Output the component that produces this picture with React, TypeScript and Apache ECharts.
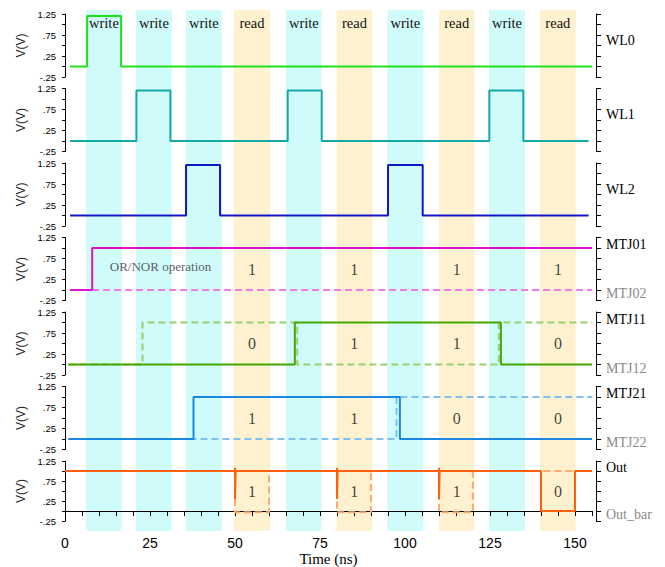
import React, { useEffect, useRef } from "react";
import * as echarts from "echarts";

// ---------- data ----------
const T_MAX = 155;
const bandStart = [6.2, 20.9, 35.6, 49.7, 65.0, 79.9, 94.8, 110.0, 124.7, 139.7];
const bandEnd = [16.7, 31.4, 46.1, 60.3, 75.5, 90.4, 105.4, 120.4, 135.3, 150.2];
const bandKind = ["write", "write", "write", "read", "write", "read", "write", "read", "write", "read"];

// waveforms: [time (ns), new value (V)] change points, drawn as steps
const WL0 = [[1.5, 0], [6.5, 1.2], [16.5, 0], [155, 0]];
const WL1 = [[1.5, 0], [21, 1.2], [31, 0], [65.5, 1.2], [75.5, 0], [124.8, 1.2], [134.8, 0], [154, 0]];
const WL2 = [[1.5, 0], [35.6, 1.2], [45.6, 0], [95, 1.2], [105.2, 0], [154, 0]];
const MTJ01 = [[1.5, 0], [8, 1.0], [155, 1.0]];
const MTJ02 = [[1.5, 0], [155, 0]];
const MTJ11 = [[1, 0], [67.6, 1.0], [128.2, 0], [155, 0]];
const MTJ12 = [[1, 0], [22.8, 1.0], [68.3, 0], [127.6, 1.0], [155, 1.0]];
const MTJ21 = [[1, 0], [37.8, 1.0], [98.5, 0], [155, 0]];
const MTJ22 = [[1, 0], [97.5, 1.0], [155, 1.0]];
const OUT = [[0, 1.0], [50, 1.08], [50, 0.3], [50.2, 1.0], [80, 1.08], [80, 0.3], [80.2, 1.0], [110, 1.08], [110, 0.3], [110.2, 1.0], [140, 0], [150, 1.0], [155, 1.0]];
const OUT_BAR = [[0, 1.0], [50, -0.03], [60, 1.0], [80, -0.03], [90, 1.0], [110, -0.03], [120, 1.0], [155, 1.0]];

const readCenters = [55, 85.1, 115.2, 145];
const bits0 = ["1", "1", "1", "1"];
const bits1 = ["0", "1", "1", "0"];
const bits2 = ["1", "1", "0", "0"];
const bitsOut = ["1", "1", "1", "0"];

const leftTickLabels: Record<string, string> = { "125": "1.25", "75": ".75", "25": ".25", "-25": "-.25" };
const xTickLabels = [0, 25, 50, 75, 100, 125, 150];

// ---------- styling ----------
const CYAN = "#d0fbfb";
const TAN = "#fdf1cf";
const SERIF = "'Liberation Serif', 'Times New Roman', serif";
const SANS = "'Liberation Sans', Arial, sans-serif";

type Panel = {
  solid: { name: string; data: number[][]; color: string };
  dashed?: { name: string; data: number[][]; color: string };
  bits?: string[];
};

const panels: Panel[] = [
  { solid: { name: "WL0", data: WL0, color: "#1ee01e" } },
  { solid: { name: "WL1", data: WL1, color: "#14a8a8" } },
  { solid: { name: "WL2", data: WL2, color: "#1414c8" } },
  { solid: { name: "MTJ01", data: MTJ01, color: "#e010d0" }, dashed: { name: "MTJ02", data: MTJ02, color: "#f07ae6" }, bits: bits0 },
  { solid: { name: "MTJ11", data: MTJ11, color: "#44a800" }, dashed: { name: "MTJ12", data: MTJ12, color: "#98d070" }, bits: bits1 },
  { solid: { name: "MTJ21", data: MTJ21, color: "#1a88e0" }, dashed: { name: "MTJ22", data: MTJ22, color: "#80c0f0" }, bits: bits2 },
  { solid: { name: "Out", data: OUT, color: "#ff6010" }, dashed: { name: "Out_bar", data: OUT_BAR, color: "#ffaa70" }, bits: bitsOut },
];

export default function App() {
  const ref = useRef<HTMLDivElement>(null);
  useEffect(() => {
    if (!ref.current) return;
    const chart = echarts.init(ref.current, null, { renderer: "svg" });
    const grids: any[] = [];
    const xAxes: any[] = [];
    const yAxes: any[] = [];
    const series: any[] = [];
    const PITCH = 74.5;
    panels.forEach((p, i) => {
      grids.push({ left: 65, right: 73, top: 14 + PITCH * i, height: 63 });
      const last = i === panels.length - 1;
      xAxes.push({
        type: "value", gridIndex: i, min: 0, max: T_MAX, interval: 5,
        show: last, position: "bottom", offset: 7,
        axisLine: { show: true, lineStyle: { color: "#000", width: 1 } },
        axisTick: { show: true, length: 5, lineStyle: { color: "#000" } },
        axisLabel: {
          color: "#000", fontSize: 14, fontFamily: SANS, margin: 8,
          formatter: (v: number) => (xTickLabels.includes(Math.round(v)) ? String(Math.round(v)) : ""),
        },
        splitLine: { show: false },
        name: last ? "Time (ns)" : "", nameLocation: "middle", nameGap: 21,
        nameTextStyle: { fontFamily: SERIF, fontSize: 15, color: "#000" },
      });
      yAxes.push({
        type: "value", gridIndex: i, min: -0.25, max: 1.25, interval: 0.25, position: "left", offset: 4,
        axisLine: { show: true, lineStyle: { color: "#000", width: 1 } },
        axisTick: { show: true, length: 3, lineStyle: { color: "#000" } },
        axisLabel: {
          color: "#000", fontSize: 9.5, fontFamily: SANS, margin: 5,
          formatter: (v: number) => leftTickLabels[String(Math.round(v * 100))] || "",
        },
        splitLine: { show: false },
        name: "V(V)", nameLocation: "middle", nameRotate: 90, nameGap: 26,
        nameTextStyle: { fontFamily: SANS, fontSize: 12, color: "#222" },
      });
      const single = !p.dashed;
      yAxes.push({
        type: "value", gridIndex: i, min: -0.25, max: 1.25, interval: 0.25, position: "right", offset: 4,
        axisLine: { show: true, lineStyle: { color: "#000", width: 1 } },
        axisTick: { show: true, length: 5, lineStyle: { color: "#000" } },
        axisLabel: {
          margin: 10,
          formatter: (v: number) => {
            const k = Math.round(v * 100);
            if (single) return k === 50 ? `{m|${p.solid.name}}` : "";
            if (k === 100) return `{a|${p.solid.name}}`;
            if (k === 0) return `{b|${p.dashed!.name}}`;
            return "";
          },
          rich: {
            m: { fontFamily: SERIF, fontSize: 14, color: "#000", padding: [0, 0, 11, 0] },
            a: { fontFamily: SERIF, fontSize: 14, color: "#000", padding: [0, 0, 7, 0] },
            b: { fontFamily: SERIF, fontSize: 14, color: "#8a8a8a", padding: [7, 0, 0, 0] },
          },
        },
        splitLine: { show: false },
      });
      if (p.dashed) {
        series.push({
          type: "line", name: p.dashed.name, xAxisIndex: i, yAxisIndex: 2 * i, step: "end",
          data: p.dashed.data, showSymbol: false, symbol: "none", z: 3,
          lineStyle: { color: p.dashed.color, width: 2, type: [7, 4] },
        });
      }
      series.push({
        type: "line", name: p.solid.name, xAxisIndex: i, yAxisIndex: 2 * i, step: "end",
        data: p.solid.data, showSymbol: false, symbol: "none", z: 4,
        lineStyle: { color: p.solid.color, width: 2 },
      });
      if (p.bits) {
        series.push({
          type: "scatter", xAxisIndex: i, yAxisIndex: 2 * i, symbolSize: 0, z: 5, silent: true,
          data: readCenters.map((t, j) => [t, 0.5, p.bits![j]]),
          label: { show: true, position: "inside", formatter: (q: any) => q.data[2], fontFamily: SERIF, fontSize: 16, color: "#111" },
        });
      }
      if (i === 3) {
        series.push({
          type: "scatter", xAxisIndex: i, yAxisIndex: 2 * i, symbolSize: 0, z: 5, silent: true,
          data: [[28.1, 0.56, "OR/NOR operation"]],
          label: { show: true, position: "inside", formatter: (q: any) => q.data[2], fontFamily: SERIF, fontSize: 13, color: "#333" },
        });
      }
    });
    // background bands grid
    const bg = panels.length;
    grids.push({ left: 65, right: 73, top: 10, height: 521 });
    xAxes.push({ type: "value", gridIndex: bg, min: 0, max: T_MAX, show: false });
    yAxes.push({ type: "value", gridIndex: bg, min: 0, max: 1, show: false });
    series.push({
      type: "line", xAxisIndex: bg, yAxisIndex: yAxes.length - 1, data: [[0, -1]], symbol: "none",
      lineStyle: { opacity: 0 }, z: 0, silent: true,
      markArea: {
        silent: true, z: 0,
        label: { show: true, position: "insideTop", distance: 5, fontFamily: SERIF, fontSize: 14.5, color: "#111" },
        data: bandStart.map((s, j) => [
          { xAxis: s, name: bandKind[j], itemStyle: { color: bandKind[j] === "write" ? CYAN : TAN } },
          { xAxis: bandEnd[j] },
        ]),
      },
    });
    chart.setOption({
      animation: false,
      backgroundColor: "#fff",
      grid: grids, xAxis: xAxes, yAxis: yAxes, series,
    });
    return () => chart.dispose();
  }, []);
  return <div ref={ref} style={{ position: "fixed", left: 0, top: 0, width: 665, height: 567 }} />;
}
